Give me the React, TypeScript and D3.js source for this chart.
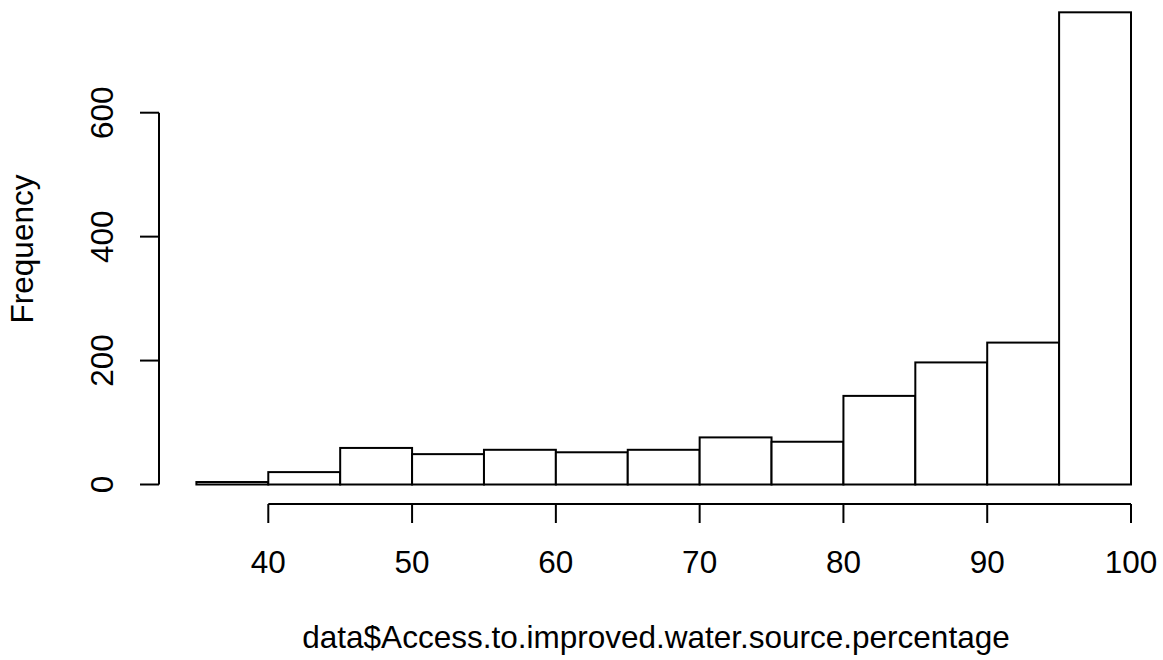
import React from "react";
import * as d3 from "d3";

const binStarts = [35, 40, 45, 50, 55, 60, 65, 70, 75, 80, 85, 90, 95];
const binWidth = 5;
const counts = [4, 20, 59, 49, 56, 52, 56, 76, 69, 143, 197, 229, 762];
const xTicks = [40, 50, 60, 70, 80, 90, 100];
const yTicks = [0, 200, 400, 600];
const xLabel = "data$Access.to.improved.water.source.percentage";
const yLabel = "Frequency";

const W = 1163;
const H = 660;
const FONT = "'Liberation Sans', Arial, Helvetica, sans-serif";
const FS = 31.5;

export default function App() {
  const x = d3.scaleLinear().domain([35, 100]).range([196.4, 1131]);
  const y = d3.scaleLinear().domain([0, 600]).range([484.5, 112.7]);
  const axisY = 504;
  const axisX = 159;
  const tick = 19;

  return (
    <svg
      width={W}
      height={H}
      style={{ position: "absolute", left: 0, top: 0, background: "#fff" }}
      fontFamily={FONT}
    >
      <rect x={0} y={0} width={W} height={H} fill="#fff" />
      {binStarts.map((b, i) => (
        <rect
          key={b}
          x={x(b)}
          y={y(counts[i])}
          width={x(b + binWidth) - x(b)}
          height={y(0) - y(counts[i])}
          fill="#fff"
          stroke="#000"
          strokeWidth={2}
        />
      ))}
      {/* x axis */}
      <line x1={x(xTicks[0])} x2={x(xTicks[xTicks.length - 1])} y1={axisY} y2={axisY} stroke="#000" strokeWidth={2} />
      {xTicks.map((t) => (
        <g key={t}>
          <line x1={x(t)} x2={x(t)} y1={axisY} y2={axisY + tick} stroke="#000" strokeWidth={2} />
          <text x={x(t)} y={573.3} fontSize={FS} textAnchor="middle" fill="#000">
            {t}
          </text>
        </g>
      ))}
      {/* y axis */}
      <line x1={axisX} x2={axisX} y1={y(yTicks[0])} y2={y(yTicks[yTicks.length - 1])} stroke="#000" strokeWidth={2} />
      {yTicks.map((t) => (
        <g key={t}>
          <line x1={axisX} x2={axisX - tick} y1={y(t)} y2={y(t)} stroke="#000" strokeWidth={2} />
          <text
            transform={`translate(113,${y(t)}) rotate(-90)`}
            fontSize={FS}
            textAnchor="middle"
            fill="#000"
          >
            {t}
          </text>
        </g>
      ))}
      <text x={656} y={647.5} fontSize={FS} textAnchor="middle" fill="#000">
        {xLabel}
      </text>
      <text
        transform={`translate(33.3,249) rotate(-90)`}
        fontSize={FS}
        textAnchor="middle"
        fill="#000"
      >
        {yLabel}
      </text>
    </svg>
  );
}
